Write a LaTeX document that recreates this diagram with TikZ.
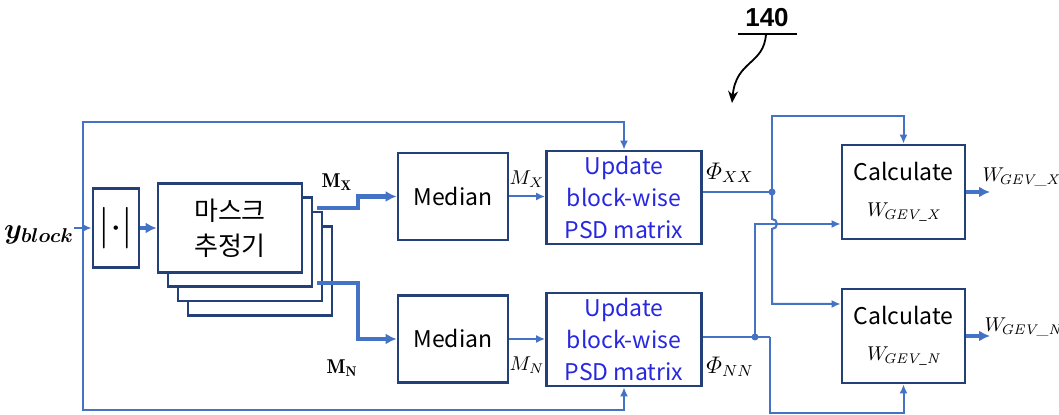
\documentclass[tikz,border=0pt]{standalone}
\usepackage{amsmath}
\usepackage{fontspec}
\newfontfamily\krfont{Noto Sans CJK KR}
\newfontfamily\numfont{Liberation Sans}
\usetikzlibrary{arrows.meta}
\definecolor{wireblue}{RGB}{68,114,196}
\definecolor{frameblue}{RGB}{36,64,120}
\definecolor{inkblue}{RGB}{40,40,225}
\tikzset{
  blk/.style={draw=frameblue, line width=1.4pt, fill=white, inner sep=0pt, align=center, font=\krfont\fontsize{11.5}{16}\selectfont},
  link/.style={draw=wireblue, line width=1pt},
  feed/.style={link, -{Latex[length=4.5pt,width=4pt]}},
  fat/.style={draw=wireblue, line width=2.2pt, -{Latex[length=5.5pt,width=5.5pt]}},
  lbl/.style={inner sep=0pt, font=\fontsize{11}{13}\selectfont},
  dot/.style={circle, fill=wireblue, inner sep=0pt, minimum size=3.5pt},
}
\begin{document}
\begin{tikzpicture}[x=0.5pt, y=0.5pt]
\useasboundingbox (0,0) rectangle (1059,415);
\node[lbl, font=\fontsize{14.5}{16}\selectfont] (yb) at (39,180) {$\boldsymbol{y_{block}}$};
\node[blk, minimum width=23pt, minimum height=39.5pt, font=\fontsize{20}{20}\selectfont] (absv) at (116,187) {$|{\cdot}|$};
\foreach \k in {3,2,1}
  \draw[draw=frameblue, line width=1.4pt, fill=white] (158+10*\k,142.5-14.3*\k) rectangle ++(144,89);
\node[blk, minimum width=72pt, minimum height=44.5pt, font=\krfont\fontsize{13}{17.5}\selectfont] (mask) at (230,187) {마스크\\추정기};
\node[blk, minimum width=55pt, minimum height=43.5pt] (medx) at (453,218.5) {Median};
\node[blk, minimum width=55pt, minimum height=43.5pt] (medn) at (453,76) {Median};
\node[blk, text=inkblue, minimum width=77.5pt, minimum height=46.5pt] (updx) at (624,217.5) {Update\\block-wise\\PSD matrix};
\node[blk, text=inkblue, minimum width=77.5pt, minimum height=46.5pt] (updn) at (624,75.5) {Update\\block-wise\\PSD matrix};
\node[blk, minimum width=61.5pt, minimum height=47pt, font=\krfont\fontsize{11.5}{18}\selectfont] (calx) at (903.5,223) {Calculate\\\fontsize{10}{11}\selectfont$W_{\!\mathit{GEV\_X}}$};
\node[blk, minimum width=61.5pt, minimum height=47pt, font=\krfont\fontsize{11.5}{18}\selectfont] (caln) at (903.5,79) {Calculate\\\fontsize{10}{11}\selectfont$W_{\!\mathit{GEV\_N}}$};
\node[lbl, font=\fontsize{10}{12}\selectfont] (lmx) at (337,233) {$\mathbf{M}_{\mathbf{X}}$};
\node[lbl, font=\fontsize{10}{12}\selectfont] (lmn) at (342,47) {$\mathbf{M}_{\mathbf{N}}$};
\node[lbl, font=\fontsize{10}{12}\selectfont] (lmxi) at (527,236) {$M_X$};
\node[lbl, font=\fontsize{10}{12}\selectfont] (lmni) at (527,50) {$M_N$};
\node[lbl, font=\fontsize{11.5}{14}\selectfont] (lpx) at (730,242) {$\varPhi_{XX}$};
\node[lbl, font=\fontsize{11.5}{14}\selectfont] (lpn) at (730,48) {$\varPhi_{NN}$};
\node[lbl, font=\fontsize{10}{11}\selectfont] (lwx) at (1021,238) {$W_{\!\mathit{GEV\_X}}$};
\node[lbl, font=\fontsize{10}{11}\selectfont] (lwn) at (1023,88) {$W_{\!\mathit{GEV\_N}}$};
\node[lbl, font=\numfont\bfseries\fontsize{13}{15}\selectfont] (num) at (767,397) {140};
\coordinate (tap) at (83,187);
\coordinate (toprow) at (0,293);
\coordinate (botrow) at (0,5);
\coordinate (mxo) at (317,207);
\coordinate (mno) at (317,132);
\coordinate (jx) at (358,0);
\coordinate (pxx) at (772,223);
\coordinate (pnn) at (755,78);
\coordinate (pnn2) at (770,78);
\coordinate (hirow) at (0,299);
\coordinate (lorow) at (0,2);
\coordinate (crossrow) at (0,191);
\coordinate (midrow) at (0,111);
\coordinate (wxo) at (990,223);
\coordinate (wno) at (990,79);
\draw[feed] (yb.east |- absv.west) -- (absv.west);
\draw[feed] (tap) |- (updx.north |- toprow) -- (updx.north);
\draw[feed] (tap) |- (updn.south |- botrow) -- (updn.south);
\draw[fat] (absv.east) -- (mask.west);
\draw[fat] (mxo) -| (jx |- medx.west) -- (medx.west);
\draw[fat] (mno) -| (jx |- medn.west) -- (medn.west);
\draw[feed] (medx.east) -- (medx.east -| updx.west);
\draw[feed] (medn.east) -- (medn.east -| updn.west);
\draw[link] (updx.east |- pxx) -- (pxx);
\draw[feed] (pxx) |- (calx.north |- hirow) -- (calx.north);
\draw[feed] (pxx) -- (772,196) arc[start angle=90, end angle=-90, radius=2.5pt] -- (pxx |- midrow) -- (caln.west |- midrow);
\draw[link] (updn.east |- pnn) -- (pnn2);
\draw[feed] (pnn2) |- (caln.south |- lorow) -- (caln.south);
\draw[feed] (pnn) |- (calx.west |- crossrow);
\node[dot] (dxx) at (pxx) {};
\node[dot] (dnn) at (pnn) {};
\draw[fat] (calx.east) -- (wxo);
\draw[fat] (caln.east) -- (wno);
\draw[line width=0.8pt] (738,381) -- (797,381);
\draw[line width=0.9pt, -{Stealth[length=6pt,width=5pt]}] (766,381) .. controls (764,350) and (736,355) .. (732,312);
\end{tikzpicture}
\end{document}
